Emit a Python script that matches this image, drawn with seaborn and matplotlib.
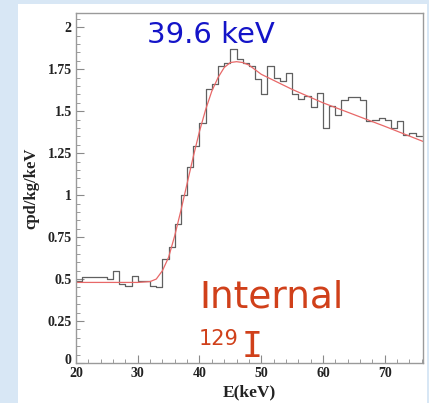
import numpy as np
import pandas as pd
import matplotlib
matplotlib.use("Agg")
import matplotlib.pyplot as plt
from matplotlib.patches import Rectangle
from matplotlib.ticker import MultipleLocator, FixedLocator
from matplotlib.transforms import ScaledTranslation
import seaborn as sns

# histogram: 1 keV bins starting at 20 keV
bin_start = list(range(20, 76))
rate = [0.49, 0.51, 0.51, 0.515, 0.515, 0.50, 0.55, 0.47, 0.46, 0.52,
        0.49, 0.49, 0.46, 0.45, 0.62, 0.69, 0.83, 1.00, 1.17, 1.29,
        1.43, 1.63, 1.66, 1.77, 1.79, 1.87, 1.81, 1.79, 1.77, 1.69,
        1.60, 1.77, 1.70, 1.68, 1.73, 1.60, 1.57, 1.59, 1.525, 1.61,
        1.40, 1.53, 1.48, 1.565, 1.585, 1.585, 1.565, 1.44, 1.45, 1.46,
        1.45, 1.40, 1.44, 1.36, 1.37, 1.35]

# fit curve
fit_e = [20, 25, 30, 32, 33, 34, 35, 36, 37, 38, 39, 40, 41, 42, 43, 44,
         45, 46, 47, 48, 50, 55, 60, 65, 70, 76.2]
fit_v = [0.48, 0.48, 0.48, 0.485, 0.50, 0.55, 0.63, 0.76, 0.91, 1.07, 1.23,
         1.38, 1.51, 1.62, 1.70, 1.76, 1.79, 1.795, 1.79, 1.775, 1.72, 1.63,
         1.55, 1.48, 1.41, 1.32]

ytick_vals = [0, 0.25, 0.5, 0.75, 1, 1.25, 1.5, 1.75, 2]
ytick_labels = ["0", "0.25", "0.5", "0.75", "1", "1.25", "1.5", "1.75", "2"]
xtick_vals = [20, 30, 40, 50, 60, 70]

hist_df = pd.DataFrame({"E": np.array(bin_start) + 0.5, "rate": rate})
fit_df = pd.DataFrame({"E": fit_e, "v": fit_v})

sns.set_style("ticks")
W, H = 429, 403
fig = plt.figure(figsize=(W / 100, H / 100), dpi=100, facecolor="#d8e7f5")
fig.patches.append(Rectangle((18 / W, 0), (427 - 18) / W, 1 - 4 / H,
                             transform=fig.transFigure, facecolor="white",
                             edgecolor="none", zorder=-10))
ax = fig.add_axes([76 / W, 1 - 363 / H, (423 - 76) / W, (363 - 13) / H])
ax.set_zorder(5)
ax.set_facecolor("white")

sns.histplot(data=hist_df, x="E", weights="rate", binwidth=1, binrange=(20, 76),
             element="step", fill=False, color="#606060", linewidth=0.9, ax=ax)
sns.lineplot(data=fit_df, x="E", y="v", color="#e86868", linewidth=0.9, ax=ax)

ax.set_xlim(20, 76.2)
ax.set_ylim(0, 2.085)

tick_font = dict(family="Liberation Serif", weight="bold", size=10)
ax.yaxis.set_major_locator(FixedLocator(ytick_vals))
ax.set_yticklabels(ytick_labels, **tick_font)
ax.yaxis.set_minor_locator(MultipleLocator(0.05))
ax.xaxis.set_major_locator(FixedLocator(xtick_vals))
ax.set_xticklabels([str(v) for v in xtick_vals], **tick_font)
ax.xaxis.set_minor_locator(MultipleLocator(2))
ax.tick_params(which="both", direction="in", color="#8a8a8a", labelcolor="#222222")
ax.tick_params(which="major", length=6, width=0.8, pad=3)
ax.tick_params(which="minor", length=3, width=0.6)
for s in ax.spines.values():
    s.set_color("#9a9a9a")
    s.set_linewidth(1.0)

# lift the "0" label a little, as in the original, so it clears the "20"
zero_lbl = ax.get_yticklabels()[0]
zero_lbl.set_transform(zero_lbl.get_transform()
                       + ScaledTranslation(0, 4 / 100, fig.dpi_scale_trans))

ax.set_xlabel("E(keV)", family="Liberation Serif", weight="bold", size=12.5,
              color="#222222", labelpad=3)
ax.set_ylabel("cpd/kg/keV", family="Liberation Serif", weight="bold", size=12,
              color="#222222", labelpad=6)

ax.text(0.205, 0.978, "39.6 keV", transform=ax.transAxes, color="#1414c8",
        fontsize=21, va="top", ha="left")
ax.text(0.355, 0.187, "Internal", transform=ax.transAxes, color="#d0401a",
        fontsize=27, va="center", ha="left")
ax.text(0.355, 0.051, "129", transform=ax.transAxes, color="#d0401a",
        fontsize=15, va="baseline", ha="left")
ax.text(0.477, 0.017, "I", transform=ax.transAxes, color="#d0401a",
        fontsize=25, va="baseline", ha="left", family="DejaVu Sans Mono")

fig.savefig("out.png", dpi=100, facecolor=fig.get_facecolor())
